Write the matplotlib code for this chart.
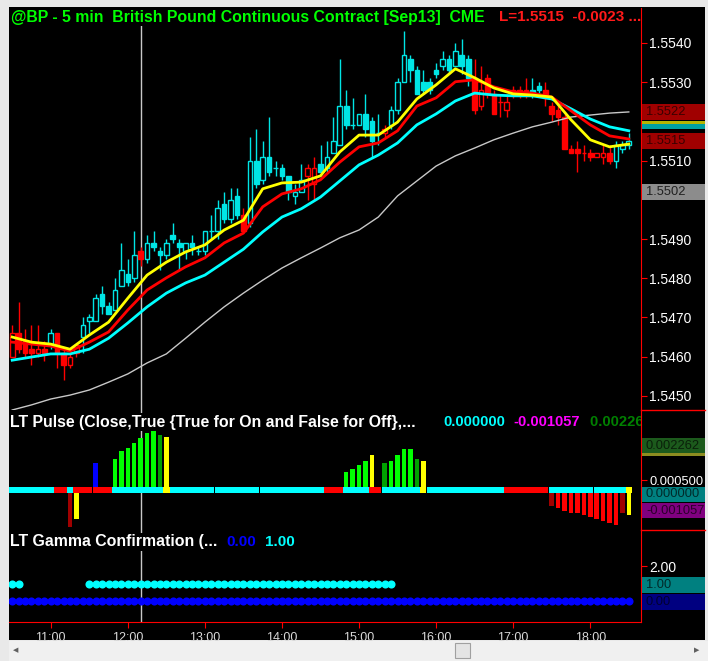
import numpy as np
import pandas as pd
import matplotlib
matplotlib.use("Agg")
import matplotlib.pyplot as plt
from matplotlib.patches import Rectangle

plt.rcParams['font.family'] = ['Liberation Sans', 'DejaVu Sans']

# 5 min bars, 10:30 .. 18:30
bar_times = pd.date_range("2013-07-01 10:30", "2013-07-01 18:30", freq="5min")

opens = [1.5466, 1.5466, 1.5464, 1.5462, 1.5462, 1.5462, 1.5463, 1.5466, 1.5461, 1.5460,
         1.5463, 1.5465, 1.5469, 1.5469, 1.5473, 1.5473, 1.5472, 1.5478, 1.5481, 1.5480,
         1.5487, 1.5485, 1.5488, 1.5487, 1.5486, 1.5490, 1.5489, 1.5487, 1.5488, 1.5487,
         1.5487, 1.5492, 1.5492, 1.5495, 1.5495, 1.5496, 1.5496, 1.5494, 1.5504, 1.5505,
         1.5507, 1.5508, 1.5506, 1.5506, 1.5501, 1.5502, 1.5508, 1.5508, 1.5507, 1.5508,
         1.5512, 1.5514, 1.5519, 1.5519, 1.5519, 1.5518, 1.5520, 1.5517, 1.5518, 1.5519,
         1.5523, 1.5530, 1.5533, 1.5533, 1.5528, 1.5528, 1.5532, 1.5534, 1.5533, 1.5534,
         1.5534, 1.5536, 1.5531, 1.5528, 1.5531, 1.5527, 1.5525, 1.5525, 1.5528, 1.5528,
         1.5528, 1.5527, 1.5528, 1.5528, 1.5524, 1.5523, 1.5521, 1.5513, 1.5513, 1.5512,
         1.5512, 1.5512, 1.5512, 1.5512, 1.5510, 1.5513, 1.5514]
highs = [1.5468, 1.5474, 1.5467, 1.5468, 1.5468, 1.5464, 1.5467, 1.5466, 1.5462, 1.5462,
         1.5463, 1.5470, 1.5471, 1.5476, 1.5478, 1.5474, 1.5480, 1.5489, 1.5485, 1.5492,
         1.5488, 1.5491, 1.5492, 1.5488, 1.5490, 1.5494, 1.5490, 1.5489, 1.5491, 1.5488,
         1.5492, 1.5496, 1.5500, 1.5502, 1.5503, 1.5503, 1.5498, 1.5516, 1.5518, 1.5515,
         1.5521, 1.5510, 1.5509, 1.5506, 1.5504, 1.5509, 1.5509, 1.5511, 1.5514, 1.5515,
         1.5521, 1.5536, 1.5528, 1.5526, 1.5522, 1.5527, 1.5521, 1.5522, 1.5519, 1.5524,
         1.5531, 1.5543, 1.5537, 1.5534, 1.5533, 1.5531, 1.5535, 1.5538, 1.5537, 1.5540,
         1.5541, 1.5537, 1.5536, 1.5534, 1.5532, 1.5528, 1.5527, 1.5527, 1.5529, 1.5529,
         1.5531, 1.5531, 1.5530, 1.5530, 1.5525, 1.5524, 1.5522, 1.5514, 1.5515, 1.5514,
         1.5513, 1.5512, 1.5514, 1.5514, 1.5515, 1.5515, 1.5517]
lows = [1.5460, 1.5461, 1.5460, 1.5458, 1.5460, 1.5459, 1.5462, 1.5457, 1.5454, 1.5457,
        1.5460, 1.5461, 1.5466, 1.5469, 1.5471, 1.5471, 1.5472, 1.5478, 1.5478, 1.5479,
        1.5483, 1.5484, 1.5487, 1.5482, 1.5485, 1.5489, 1.5482, 1.5485, 1.5486, 1.5486,
        1.5486, 1.5490, 1.5490, 1.5494, 1.5494, 1.5495, 1.5492, 1.5493, 1.5503, 1.5504,
        1.5506, 1.5506, 1.5505, 1.5500, 1.5499, 1.5502, 1.5500, 1.5500, 1.5507, 1.5507,
        1.5512, 1.5514, 1.5518, 1.5518, 1.5519, 1.5516, 1.5511, 1.5514, 1.5516, 1.5518,
        1.5522, 1.5530, 1.5530, 1.5527, 1.5527, 1.5527, 1.5531, 1.5533, 1.5532, 1.5534,
        1.5532, 1.5529, 1.5522, 1.5523, 1.5526, 1.5522, 1.5521, 1.5521, 1.5526, 1.5526,
        1.5526, 1.5526, 1.5527, 1.5524, 1.5520, 1.5519, 1.5513, 1.5512, 1.5507, 1.5510,
        1.5510, 1.5511, 1.5509, 1.5509, 1.5508, 1.5512, 1.5513]
closes = [1.5460, 1.5462, 1.5461, 1.5461, 1.5461, 1.5461, 1.5466, 1.5461, 1.5458, 1.5458,
          1.5461, 1.5468, 1.5470, 1.5475, 1.5476, 1.5471, 1.5477, 1.5482, 1.5479, 1.5486,
          1.5485, 1.5489, 1.5489, 1.5486, 1.5489, 1.5491, 1.5488, 1.5489, 1.5489, 1.5487,
          1.5492, 1.5492, 1.5498, 1.5499, 1.5500, 1.5501, 1.5492, 1.5510, 1.5510, 1.5511,
          1.5511, 1.5508, 1.5508, 1.5502, 1.5502, 1.5505, 1.5506, 1.5504, 1.5509, 1.5511,
          1.5515, 1.5524, 1.5524, 1.5519, 1.5522, 1.5522, 1.5515, 1.5517, 1.5517, 1.5523,
          1.5530, 1.5537, 1.5536, 1.5527, 1.5530, 1.5530, 1.5533, 1.5536, 1.5536, 1.5538,
          1.5537, 1.5531, 1.5523, 1.5524, 1.5527, 1.5522, 1.5525, 1.5523, 1.5527, 1.5527,
          1.5527, 1.5528, 1.5529, 1.5526, 1.5522, 1.5521, 1.5513, 1.5512, 1.5512, 1.5512,
          1.5511, 1.5511, 1.5511, 1.5510, 1.5514, 1.5514, 1.5515]
# u = cyan hollow, U = cyan filled, d = red hollow, D = red filled
candle_style = ("dDDDdDuDDd" "duuuUUuuUu" "DuUUuUUuUU" "uUuUuUDuUu" "UUUUuuddUu"
                "uuUUuUUUdu" "uuUUUUUuUu" "UUDdDDDdDD" "DUUDDDDDDD" "DddDuuu")

# moving averages, read every third bar
ma_bars = list(range(0, 97, 3))
ma_yellow = [1.54650, 1.54637, 1.54632, 1.54619, 1.54655, 1.54688, 1.54749, 1.54808, 1.54841,
             1.54867, 1.54885, 1.54923, 1.54948, 1.55028, 1.55043, 1.55045, 1.55061, 1.55122,
             1.55165, 1.55165, 1.55198, 1.55257, 1.55293, 1.55334, 1.55311, 1.55285, 1.55270,
             1.55267, 1.55262, 1.55204, 1.55153, 1.55135, 1.55142]
ma_red = [1.54637, 1.54632, 1.54627, 1.54614, 1.54637, 1.54663, 1.54719, 1.54770, 1.54801,
          1.54829, 1.54852, 1.54890, 1.54915, 1.54982, 1.55015, 1.55028, 1.55051, 1.55096,
          1.55135, 1.55145, 1.55176, 1.55239, 1.55260, 1.55301, 1.55306, 1.55288, 1.55275,
          1.55272, 1.55262, 1.55227, 1.55191, 1.55163, 1.55155]
ma_cyan = [1.54591, 1.54599, 1.54607, 1.54607, 1.54619, 1.54647, 1.54686, 1.54727, 1.54762,
           1.54788, 1.54808, 1.54841, 1.54874, 1.54918, 1.54956, 1.54977, 1.55007, 1.55048,
           1.55089, 1.55114, 1.55145, 1.55191, 1.55219, 1.55252, 1.55272, 1.55267, 1.55265,
           1.55265, 1.55257, 1.55232, 1.55206, 1.55186, 1.55176]
ma_gray = [1.54464, 1.54477, 1.54492, 1.54502, 1.54515, 1.54535, 1.54556, 1.54584, 1.54607,
           1.54647, 1.54688, 1.54727, 1.54762, 1.54795, 1.54826, 1.54852, 1.54877, 1.54903,
           1.54923, 1.54956, 1.55010, 1.55048, 1.55086, 1.55112, 1.55132, 1.55153, 1.55170,
           1.55186, 1.55198, 1.55211, 1.55216, 1.55221, 1.55224]

# LT Pulse histogram
pulse_vals = [0, 0, 0, 0, 0, 0, 0, 0, 0, -0.0019,
              -0.0015, 0, 0, 0.0014, 0, 0, 0.0016, 0.0020, 0.00215, 0.0024,
              0.00267, 0.0029, 0.0030, 0.0028, 0.0027, 0, 0, 0, 0, 0,
              0, 0, 0, 0, 0, 0, 0, 0, 0, 0,
              0, 0, 0, 0, 0, 0, 0, 0, 0, 0,
              0, 0, 0.0009, 0.0011, 0.0013, 0.0015, 0.0018, 0, 0.0014, 0.0015,
              0.0018, 0.0021, 0.0021, 0.0016, 0.0015, 0, 0, 0, 0, 0,
              0, 0, 0, 0, 0, 0, 0, 0, 0, 0,
              0, 0, 0, 0, -0.0008, -0.0009, -0.0011, -0.0012, -0.0012, -0.0013,
              -0.0014, -0.0015, -0.0016, -0.0017, -0.0018, -0.0012, -0.0013]
pulse_bar_color = (".........R" "y..b..gggg" "gggGy....." ".........." ".........."
                   "..ggggy.Gg" "gggGy....." ".........." "....Rrrrrr" "rrrrrRy")
pulse_dot_color = ("cccccccrrc" "rrrrrrcccc" "ccccyccccc" "cccccccccc" "cccccccccr"
                   "rrccccrrcc" "ccccyccccc" "cccccccrrr" "rrrrcccccc" "ccccccy")

# LT Gamma Confirmation: 1 = dot shown
gamma_cyan = ("1100000000" "0011111111" "1111111111" "1111111111" "1111111111"
              "1111111111" "0000000000" "0000000000" "0000000000" "0000000")
gamma_blue = ("1111111111" "1111111111" "1111111111" "1111111111" "1111111111"
              "1111111111" "1111111111" "1111111111" "1111111111" "1111111")

hour_labels = ["11:00", "12:00", "13:00", "14:00", "15:00", "16:00", "17:00", "18:00"]

CYAN = "#00e5e5"
RED = "#ff0000"
W, H = 708, 661

fig = plt.figure(figsize=(W / 100, H / 100), dpi=100, facecolor="#e9e9e9")


def fx(px):
    return px / W


def fy(py):
    return 1 - py / H


# black chart background
bg = fig.add_axes([fx(9), fy(640), fx(705 - 9), fy(7) - fy(640)])
bg.set_facecolor("black")
bg.set_xticks([])
bg.set_yticks([])
for s in bg.spines.values():
    s.set_visible(False)

left, right = 9, 641
ax = fig.add_axes([fx(left), fy(410), fx(right - left), fy(8) - fy(410)])
axp = fig.add_axes([fx(left), fy(530), fx(right - left), fy(410) - fy(530)], sharex=ax)
axg = fig.add_axes([fx(left), fy(622), fx(right - left), fy(530) - fy(622)], sharex=ax)

x = np.arange(len(bar_times))
for a in (ax, axp, axg):
    a.set_facecolor("none")
    for side in ("top", "left", "bottom"):
        a.spines[side].set_visible(False)
    a.spines["right"].set_color(RED)
    a.yaxis.tick_right()
    a.tick_params(axis="y", colors=RED, labelcolor="white", length=4, labelsize=10, pad=2)
    a.tick_params(axis="x", bottom=False, labelbottom=False)
    a.axvline(20, color="#c8c8c8", lw=1, zorder=0)

ax.set_xlim(-0.5, 97.9)

# --- price panel
for i in x:
    o, h, l, c, s = opens[i], highs[i], lows[i], closes[i], candle_style[i]
    col = CYAN if s in "uU" else RED
    ax.vlines(i, l, h, color=col, lw=1, zorder=2)
    face = col if s in "UD" else "black"
    ax.bar(i, c - o, bottom=o, width=0.72, facecolor=face, edgecolor=col, lw=1, zorder=3)

ax.plot(ma_bars, ma_gray, color="#c8c8c8", lw=1, zorder=4)
ax.plot(ma_bars, ma_cyan, color="#00ffff", lw=2, zorder=5)
ax.plot(ma_bars, ma_red, color="#ff0000", lw=2, zorder=6)
ax.plot(ma_bars, ma_yellow, color="#ffff00", lw=2, zorder=7)
ax.set_ylim(1.54464, 1.55489)
price_ticks = [1.5450, 1.5460, 1.5470, 1.5480, 1.5490, 1.5510, 1.5530, 1.5540]
ax.set_yticks(price_ticks, [f"{t:.4f}" for t in price_ticks])


def side_box(a, value, label, face, fg="#202020", h=16):
    y_disp = a.transData.transform((0, value))[1]
    y0 = (y_disp - h / 2) / H
    fig.patches.append(Rectangle((fx(right + 1), y0), fx(63), h / H, transform=fig.transFigure,
                                 facecolor=face, edgecolor="none", zorder=5))
    if label:
        fig.text(fx(right + 5), y_disp / H, label, color=fg, fontsize=9.3, va="center", zorder=6)


side_box(ax, 1.55224, "1.5522", "#a00000", "#3a0000")
side_box(ax, 1.55197, "", "#b4b400", h=3)
side_box(ax, 1.55187, "", "#00a0a0", h=5)
side_box(ax, 1.55150, "1.5515", "#a00000", "#3a0000")
side_box(ax, 1.55020, "1.5502", "#8c8c8c", "#202020")

ax.text(0.003, 0.977, "@BP - 5 min  British Pound Continuous Contract [Sep13]  CME",
        transform=ax.transAxes, color="#00ff00", fontsize=11.4, fontweight="bold", va="center",
        bbox=dict(facecolor="black", edgecolor="none", pad=1), zorder=10)
ax.text((499 - left) / (right - left), 0.977, "L=1.5515  -0.0023 ...", transform=ax.transAxes,
        color="#ff1a1a", fontsize=11, fontweight="bold", va="center", zorder=10)

# --- pulse panel
bar_cmap = {"g": "#00ff00", "G": "#00a000", "y": "#ffff00", "b": "#0000ff",
            "r": "#ff0000", "R": "#a00000"}
for i in x:
    if pulse_bar_color[i] != ".":
        axp.bar(i, pulse_vals[i], width=0.7, color=bar_cmap[pulse_bar_color[i]], zorder=2)
dot_cols = [{"c": "#00ffff", "r": "#ff0000", "y": "#ffff00"}[k] for k in pulse_dot_color]
axp.scatter(x, np.zeros(len(x)), marker="s", s=21, c=dot_cols, linewidths=0, zorder=3)
axp.set_ylim(-0.00205, 0.0041)
axp.set_yticks([0.0005], ["0.000500"])
axp.tick_params(axis="y", labelsize=9.3)
side_box(axp, 0.002262, "0.002262", "#1c5a1c", "#0a200a", h=15)
side_box(axp, 0.00182, "", "#8c8c20", h=3)
side_box(axp, -0.00022, "0.000000", "#008080", "#002a2a", h=15)
side_box(axp, -0.00106, "-0.001057", "#800080", "#2a002a", h=15)

axp.text(0.0015, 0.9, "LT Pulse (Close,True {True for On and False for Off},...",
         transform=axp.transAxes, color="white", fontsize=11.4, fontweight="bold", va="center",
         bbox=dict(facecolor="black", edgecolor="none", pad=1), zorder=10)
for px, txt, col in [(443, "0.000000", "#00ffff"), (513, "-0.001057", "#ff00ff"),
                     (590, "0.002262 ...", "#008000")]:
    axp.text((px - left) / (right - left), 0.9, txt, transform=axp.transAxes, color=col,
             fontsize=10.6, fontweight="bold", va="center", clip_on=True, zorder=10)

# --- gamma panel
gx_c = [i for i in x if gamma_cyan[i] == "1"]
gx_b = [i for i in x if gamma_blue[i] == "1"]
axg.scatter(gx_c, np.ones(len(gx_c)), marker="o", s=34, color="#00ffff", linewidths=0, zorder=3)
axg.scatter(gx_b, np.zeros(len(gx_b)), marker="o", s=34, color="#0000ff", linewidths=0, zorder=3)
axg.set_ylim(-1.2, 4.06)
axg.set_yticks([2], ["2.00"])
side_box(axg, 0.93, "1.00", "#008080", "#002a2a")
side_box(axg, -0.05, "0.00", "#000080", "#000030")
axg.text(0.0015, 0.87, "LT Gamma Confirmation (...", transform=axg.transAxes, color="white",
         fontsize=11.4, fontweight="bold", va="center",
         bbox=dict(facecolor="black", edgecolor="none", pad=1), zorder=10)
axg.text((226 - left) / (right - left), 0.87, "0.00", transform=axg.transAxes, color="#0000ff",
         fontsize=11, fontweight="bold", va="center", zorder=10)
axg.text((265 - left) / (right - left), 0.87, "1.00", transform=axg.transAxes, color="#00ffff",
         fontsize=11, fontweight="bold", va="center", zorder=10)

axg.spines["bottom"].set_visible(True)
axg.spines["bottom"].set_color(RED)
hour_pos = [i for i, t in enumerate(bar_times) if t.minute == 0 and t.hour >= 11]
axg.set_xticks(hour_pos, hour_labels)
axg.tick_params(axis="x", bottom=True, labelbottom=True, colors=RED, labelcolor="#d8d8d8",
                length=4, labelsize=9, pad=3)

# panel separators on the price scale
for py in (410, 530):
    fig.add_artist(plt.Line2D([fx(right), fx(705)], [fy(py), fy(py)], color=RED, lw=1))

# scrollbar
fig.patches.append(Rectangle((fx(9), fy(661)), fx(699), fy(641) - fy(661), transform=fig.transFigure,
                             facecolor="#f0f0f0", edgecolor="none"))
fig.patches.append(Rectangle((fx(455), fy(658)), fx(15), fy(643) - fy(658), transform=fig.transFigure,
                             facecolor="#e4e4e4", edgecolor="#a0a0a0", lw=0.8))
fig.text(fx(16), fy(650), "◀", fontsize=5, color="#606060", ha="center", va="center",
         family="DejaVu Sans")
fig.text(fx(697), fy(650), "▶", fontsize=5, color="#606060", ha="center", va="center",
         family="DejaVu Sans")

fig.savefig("out.png", dpi=100, facecolor=fig.get_facecolor())
